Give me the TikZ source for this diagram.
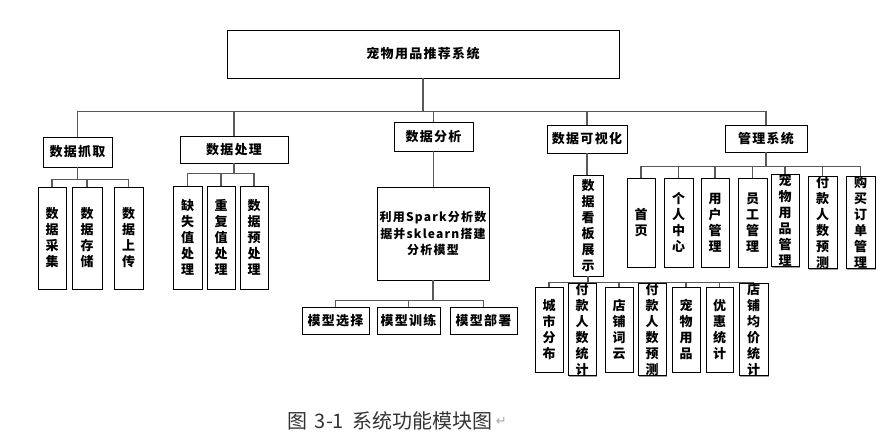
\documentclass[tikz,border=0pt]{standalone}
\usepackage{fontspec}
\usepackage{xcolor}
\setmainfont{Noto Sans CJK SC}
\newfontfamily\boxfont{Noto Sans CJK SC}[LetterSpace=10]
\newfontfamily\symfont{DejaVu Sans}
\usepackage{tikz}
\usetikzlibrary{positioning,shadows}

\tikzset{
  box/.style={draw, line width=0.8pt, fill=white, inner sep=0pt, align=center,
    font=\boxfont\bfseries\fontsize{13}{16}\selectfont,
    drop shadow={shadow xshift=1.3pt, shadow yshift=-1.3pt, fill=gray!75, opacity=1}},
  link/.style={draw=gray!70!black, line width=1.1pt}
}

\begin{document}
\begin{tikzpicture}[x=1pt, y=-1pt]
  \useasboundingbox (0,0) rectangle (890,443);

  \node[box, minimum width=392, minimum height=48] (root) at (423,54) {宠物用品推荐系统};

  \node[box, minimum width=69, minimum height=30] (grab) at (77.5,152) {数据抓取};
  \node[box, minimum width=108, minimum height=27] (proc) at (234,149.5) {数据处理};
  \node[box, minimum width=79, minimum height=29] (anal) at (433.5,136.5) {数据分析};
  \node[box, minimum width=80, minimum height=28] (vis) at (587,139) {数据可视化};
  \node[box, minimum width=82, minimum height=27] (mgmt) at (766,138.5) {管理系统};

  \node[box, minimum width=28, minimum height=102] (collect) at (52,238) {数\\据\\采\\集};
  \node[box, minimum width=30, minimum height=102] (store) at (87,238) {数\\据\\存\\储};
  \node[box, minimum width=29, minimum height=102] (upload) at (128.5,238) {数\\据\\上\\传};

  \node[box, minimum width=29, minimum height=103] (missing) at (187.5,237.5) {缺\\失\\值\\处\\理};
  \node[box, minimum width=28, minimum height=103] (dup) at (221,237.5) {重\\复\\值\\处\\理};
  \node[box, minimum width=28, minimum height=103] (prep) at (254,237.5) {数\\据\\预\\处\\理};

  \node[box, minimum width=112, minimum height=93, font=\boxfont\bfseries\fontsize{12}{16.5}\selectfont] (model) at (433,233.5) {利用Spark分析数\\据并sklearn搭建\\分析模型};
  \node[box, minimum width=67, minimum height=27] (select) at (335.5,320.5) {模型选择};
  \node[box, minimum width=63, minimum height=27] (train) at (408.5,320.5) {模型训练};
  \node[box, minimum width=67, minimum height=27] (deploy) at (483.5,320.5) {模型部署};

  \node[box, minimum width=30, minimum height=101] (dash) at (588,225.5) {数\\据\\看\\板\\展\\示};
  \node[box, minimum width=28, minimum height=85] (city) at (549,329.5) {城\\市\\分\\布};
  \node[box, minimum width=28, minimum height=85] (payers) at (582,329.5) {付\\款\\人\\数\\统\\计};
  \node[box, minimum width=28, minimum height=85] (cloud) at (619,329.5) {店\\铺\\词\\云};
  \node[box, minimum width=28, minimum height=85] (forecast) at (652,329.5) {付\\款\\人\\数\\预\\测};
  \node[box, minimum width=28, minimum height=85] (goods) at (686,329.5) {宠\\物\\用\\品};
  \node[box, minimum width=27, minimum height=85] (coupon) at (719.5,329.5) {优\\惠\\统\\计};
  \node[box, minimum width=29, minimum height=85] (price) at (753.5,329.5) {店\\铺\\均\\价\\统\\计};

  \node[box, minimum width=28, minimum height=89] (home) at (641,222.5) {首\\页};
  \node[box, minimum width=29, minimum height=89] (center) at (678.5,222.5) {个\\人\\中\\心};
  \node[box, minimum width=28, minimum height=89] (users) at (715,222.5) {用\\户\\管\\理};
  \node[box, minimum width=29, minimum height=89] (staff) at (752.5,222.5) {员\\工\\管\\理};
  \node[box, minimum width=28, minimum height=91] (petgoods) at (785,220.5) {宠\\物\\用\\品\\管\\理};
  \node[box, minimum width=29, minimum height=89] (payfc) at (822.5,222.5) {付\\款\\人\\数\\预\\测};
  \node[box, minimum width=29, minimum height=89] (orders) at (860.5,222.5) {购\\买\\订\\单\\管\\理};

  \draw[link] (root.south) -- ++(0,33) -| (grab.north);
  \draw[link] (root.south) -- ++(0,33) -| (proc.north);
  \draw[link] (root.south) -- ++(0,33) -| (anal.north);
  \draw[link] (root.south) -- ++(0,33) -| (vis.north);
  \draw[link] (root.south) -- ++(0,33) -| (mgmt.north);

  \draw[link] (grab.south) -- ++(0,12) -| (collect.north);
  \draw[link] (grab.south) -- ++(0,12) -| (store.north);
  \draw[link] (grab.south) -- ++(0,12) -| (upload.north);

  \draw[link] (proc.south) -- ++(0,10) -| (missing.north);
  \draw[link] (proc.south) -- ++(0,10) -| (dup.north);
  \draw[link] (proc.south) -- ++(0,10) -| (prep.north);

  \draw[link] (anal.south) -- (anal.south |- model.north);
  \draw[link] (model.south) -- ++(0,20) -| (select.north);
  \draw[link] (model.south) -- ++(0,20) -| (train.north);
  \draw[link] (model.south) -- ++(0,20) -| (deploy.north);

  \draw[link] (vis.south) -- (vis.south |- dash.north);
  \draw[link] (dash.south) -- ++(0,6) -| (city.north);
  \draw[link] (dash.south) -- ++(0,6) -| (payers.north);
  \draw[link] (dash.south) -- ++(0,6) -| (cloud.north);
  \draw[link] (dash.south) -- ++(0,6) -| (forecast.north);
  \draw[link] (dash.south) -- ++(0,6) -| (goods.north);
  \draw[link] (dash.south) -- ++(0,6) -| (coupon.north);
  \draw[link] (dash.south) -- ++(0,6) -| (price.north);

  \draw[link] (mgmt.south) -- ++(0,14) -| (home.north);
  \draw[link] (mgmt.south) -- ++(0,14) -| (center.north);
  \draw[link] (mgmt.south) -- ++(0,14) -| (users.north);
  \draw[link] (mgmt.south) -- ++(0,14) -| (staff.north);
  \draw[link] (mgmt.south) -- ++(0,14) -| (petgoods.north);
  \draw[link] (mgmt.south) -- ++(0,14) -| (payfc.north);
  \draw[link] (mgmt.south) -- ++(0,14) -| (orders.north);

  \node[text=black!80, font=\fontsize{20}{20}\selectfont] (caption) at (390,421) {图\hspace{7pt}3-1\hspace{8pt}系统功能模块图};
  \node[right=0pt of caption, inner sep=0pt, text=gray!70, font=\symfont\fontsize{13}{13}\selectfont] (ret) {↵};
\end{tikzpicture}
\end{document}
